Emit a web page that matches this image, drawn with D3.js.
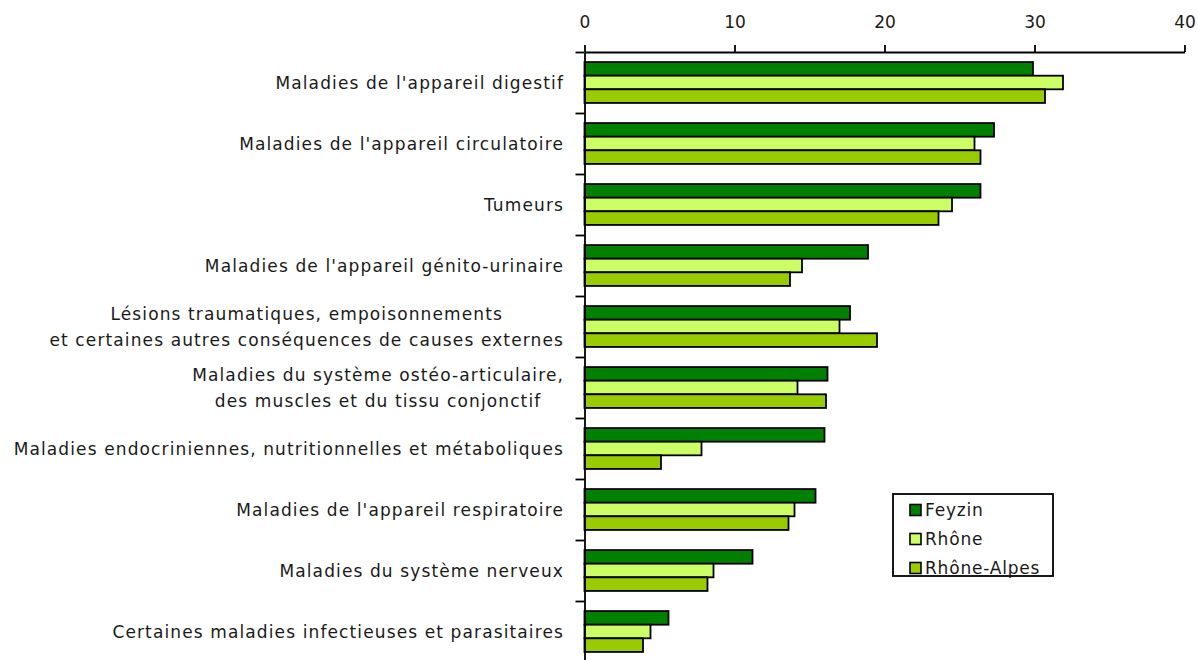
<!DOCTYPE html>
<html>
<head>
<meta charset="utf-8">
<script src="https://cdn.jsdelivr.net/npm/d3@7"></script>
<style>
  html, body { margin: 0; padding: 0; background: #fff; }
  svg { display: block; }
  text { font-family: "DejaVu Sans", Verdana, sans-serif; fill: #1a1a1a; }
</style>
</head>
<body>
<svg id="chart" width="1198" height="660"></svg>
<script>
// Causes of hospital stays, rate per category (Feyzin / Rhône / Rhône-Alpes)
const categories = [
  ["Maladies de l'appareil digestif"],
  ["Maladies de l'appareil circulatoire"],
  ["Tumeurs"],
  ["Maladies de l'appareil génito-urinaire"],
  ["Lésions traumatiques, empoisonnements", "et certaines autres conséquences de causes externes"],
  ["Maladies du système ostéo-articulaire,", "des muscles et du tissu conjonctif"],
  ["Maladies endocriniennes, nutritionnelles et métaboliques"],
  ["Maladies de l'appareil respiratoire"],
  ["Maladies du système nerveux"],
  ["Certaines maladies infectieuses et parasitaires"]
];
const seriesNames = ["Feyzin", "Rhône", "Rhône-Alpes"];
const feyzin     = [29.9, 27.3, 26.4, 18.9, 17.7, 16.2, 16.0, 15.4, 11.2, 5.6];
const rhone      = [31.9, 26.0, 24.5, 14.5, 17.0, 14.2, 7.8, 14.0, 8.6, 4.4];
const rhoneAlpes = [30.7, 26.4, 23.6, 13.7, 19.5, 16.1, 5.1, 13.6, 8.2, 3.9];
const xTicks = [0, 10, 20, 30, 40];
const colors = ["#008000", "#CCFF66", "#99CC00"];

const svg = d3.select("#chart");
const plotLeft = 584.5, plotRight = 1184.5, plotTop = 52, plotBottom = 662;

const x = d3.scaleLinear().domain([0, 40]).range([plotLeft, plotRight]);
const keys = categories.map((c, i) => i);
const y = d3.scaleBand().domain(keys).range([plotTop, plotBottom])
  .paddingInner(0.33).paddingOuter(0.165);
const ySub = d3.scaleBand().domain(seriesNames).range([0, y.bandwidth()]);
const color = d3.scaleOrdinal().domain(seriesNames).range(colors);

const values = [feyzin, rhone, rhoneAlpes];

// bars
const groups = svg.append("g").selectAll("g")
  .data(keys).join("g")
  .attr("transform", i => `translate(0,${y(i)})`);

groups.selectAll("rect")
  .data(i => seriesNames.map((s, k) => ({ s, v: values[k][i] })))
  .join("rect")
  .attr("x", x(0))
  .attr("y", d => ySub(d.s))
  .attr("width", d => x(d.v) - x(0))
  .attr("height", ySub.bandwidth())
  .attr("fill", d => color(d.s))
  .attr("stroke", "#000")
  .attr("stroke-width", 1.8);

// top value axis
const xAxis = svg.append("g")
  .attr("transform", `translate(0,${plotTop})`)
  .call(d3.axisTop(x).tickValues(xTicks).tickFormat(d3.format("d"))
    .tickSize(7).tickSizeOuter(0).tickPadding(17));
xAxis.selectAll("text").style("font-size", "17px").attr("fill", "#1a1a1a")
  .style("font-family", "'DejaVu Sans', Verdana, sans-serif");
xAxis.selectAll("line, path").attr("stroke", "#000").attr("stroke-width", 1.8);

// left category axis, ticks on band boundaries
const yBound = d3.scaleLinear().domain([0, categories.length]).range([plotTop, plotBottom]);
const yAxis = svg.append("g")
  .attr("transform", `translate(${plotLeft},0)`)
  .call(d3.axisLeft(yBound).tickValues(d3.range(0, categories.length))
    .tickFormat("").tickSize(9).tickSizeOuter(0));
yAxis.selectAll("line, path").attr("stroke", "#000").attr("stroke-width", 1.8);

// category labels: block right-aligned to the axis, lines centred within the block
const lineH = 26, labelRight = 564;
svg.append("g").selectAll("text")
  .data(keys).join("text")
  .style("font-size", "17px")
  .style("letter-spacing", "1.12px")
  .each(function (i) {
    const lines = categories[i];
    const cy = y(i) + y.bandwidth() / 2;
    const t = d3.select(this);
    const spans = lines.map((ln, j) => t.append("tspan")
      .attr("text-anchor", "middle")
      .attr("y", cy + (j - (lines.length - 1) / 2) * lineH)
      .attr("dy", "0.36em")
      .text(ln));
    const maxW = d3.max(spans, s => s.node().getComputedTextLength());
    spans.forEach(s => s.attr("x", labelRight - maxW / 2));
  });

// legend
const lg = svg.append("g").attr("transform", "translate(893,494)");
lg.append("rect").attr("width", 160).attr("height", 82)
  .attr("fill", "#fff").attr("stroke", "#000").attr("stroke-width", 1.8);
const item = lg.selectAll("g.item").data(seriesNames).join("g")
  .attr("class", "item")
  .attr("transform", (d, k) => `translate(17,${16 + k * 29})`);
item.append("rect").attr("x", 0).attr("y", -5.5).attr("width", 11).attr("height", 11)
  .attr("fill", d => color(d)).attr("stroke", "#000").attr("stroke-width", 1.6);
item.append("text").attr("x", 15).attr("dy", "0.36em")
  .style("font-size", "17px").style("letter-spacing", "0.8px").text(d => d);
</script>
</body>
</html>
